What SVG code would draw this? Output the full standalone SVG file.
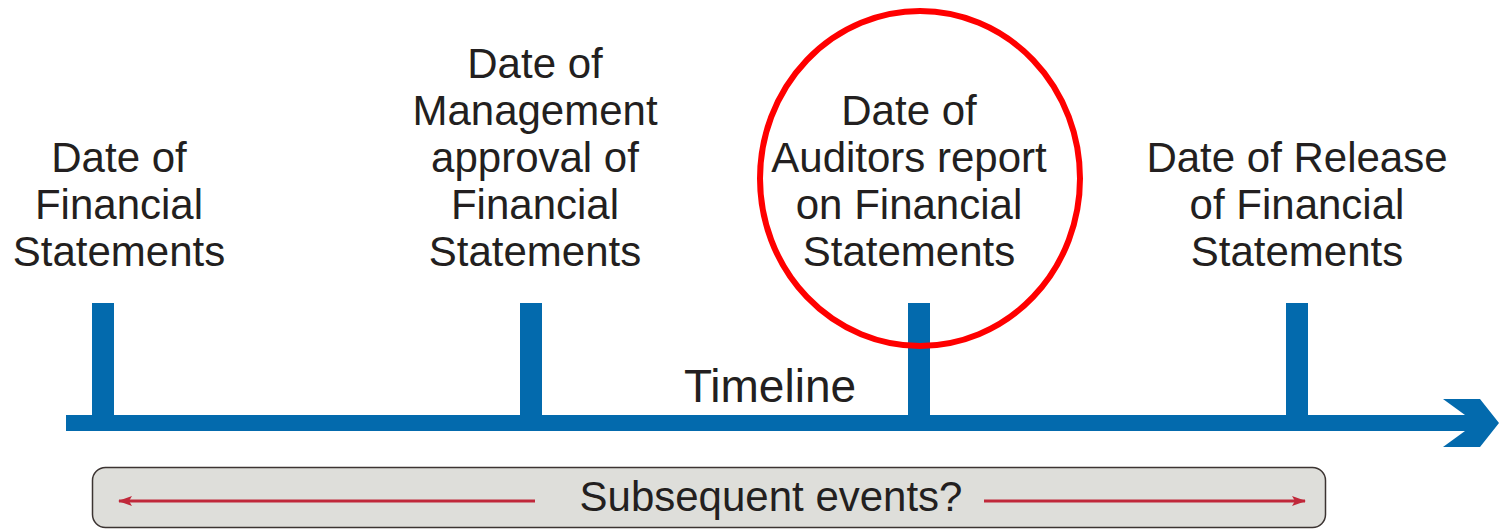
<svg xmlns="http://www.w3.org/2000/svg" width="1499" height="529" viewBox="0 0 1499 529">
<style>
.t{font-family:"Liberation Sans",Arial,sans-serif;font-size:42px;fill:#231f20;text-anchor:middle}
.blue{fill:#036aad}
.red{stroke:#c0283a;stroke-width:3;fill:none}
</style>
<defs>
<marker id="ah" viewBox="0 0 14 10" refX="13" refY="5" markerWidth="14" markerHeight="10" markerUnits="userSpaceOnUse" orient="auto-start-reverse">
<path d="M0,0 L14,5 L0,10 L3,5 Z" fill="#c0283a"/>
</marker>
</defs>
<rect width="1499" height="529" fill="#fff"/>
<g id="timeline">
<rect class="blue" x="66" y="415" width="1400" height="16"/>
<polygon class="blue" points="1465,415 1443,399 1480,399 1499,423 1480,447 1443,447 1465,431"/>
<text class="t" x="770" y="402" style="font-size:46px">Timeline</text>
</g>
<g id="node-financial-statements">
<rect class="blue" x="92" y="303" width="22" height="114"/>
<text class="t" x="119" y="172">Date of</text>
<text class="t" x="119" y="219">Financial</text>
<text class="t" x="119" y="266">Statements</text>
</g>
<g id="node-management-approval">
<rect class="blue" x="520" y="303" width="22" height="114"/>
<text class="t" x="535" y="78">Date of</text>
<text class="t" x="535" y="125">Management</text>
<text class="t" x="535" y="172">approval of</text>
<text class="t" x="535" y="219">Financial</text>
<text class="t" x="535" y="266">Statements</text>
</g>
<g id="node-auditors-report">
<rect class="blue" x="908" y="303" width="22" height="114"/>
<text class="t" x="909" y="125">Date of</text>
<text class="t" x="909" y="172">Auditors report</text>
<text class="t" x="909" y="219">on Financial</text>
<text class="t" x="909" y="266">Statements</text>
<ellipse cx="920" cy="178.5" rx="160" ry="167.5" fill="none" stroke="#ff0000" stroke-width="6"/>
</g>
<g id="node-release">
<rect class="blue" x="1286" y="303" width="22" height="114"/>
<text class="t" x="1297" y="172">Date of Release</text>
<text class="t" x="1297" y="219">of Financial</text>
<text class="t" x="1297" y="266">Statements</text>
</g>
<g id="node-subsequent-events">
<rect x="92.5" y="467.5" width="1233" height="60" rx="13" ry="13" fill="#dededa" stroke="#3c3432" stroke-width="1.5"/>
<text class="t" x="771" y="511">Subsequent events?</text>
</g>
<g id="connectors">
<line class="red" x1="535" y1="501" x2="119" y2="501" marker-end="url(#ah)"/>
<line class="red" x1="984" y1="501" x2="1305" y2="501" marker-end="url(#ah)"/>
</g>
</svg>
